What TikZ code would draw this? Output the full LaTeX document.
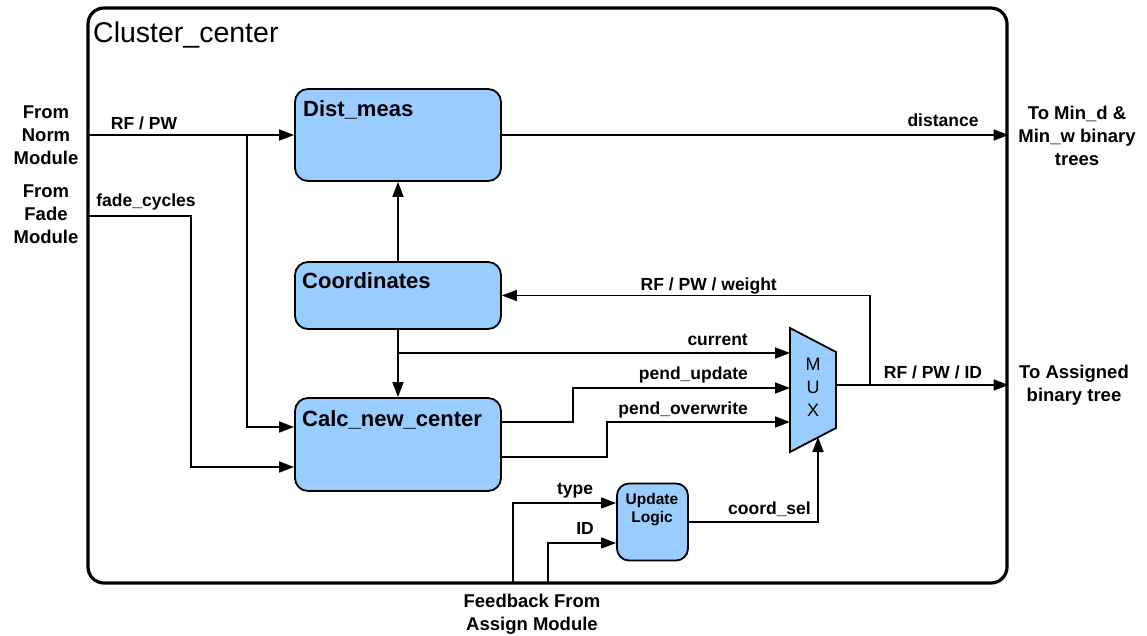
\documentclass[tikz,border=0pt]{standalone}
\usepackage{fontspec}
\setmainfont{Liberation Sans}
\usetikzlibrary{arrows.meta}
\definecolor{boxblue}{HTML}{99CCFF}
\begin{document}
\begin{tikzpicture}[x=1pt,y=-1pt,
  blk/.style={draw, line width=1.8pt, fill=boxblue, rounded corners=13pt, inner sep=0pt},
  sig/.style={line width=1.6pt, -{Triangle[length=15pt,width=11pt]}},
  lbl/.style={font=\fontsize{17.5}{20}\selectfont\bfseries, inner sep=0pt},
  side/.style={font=\fontsize{18.5}{23}\selectfont\bfseries, inner sep=0pt, align=center},
  blklbl/.style={font=\fontsize{22}{25}\selectfont\bfseries, inner sep=0pt},
]
\useasboundingbox (0,0) rectangle (1147,635);
\fill[white] (0,0) rectangle (1147,635);

% frame
\node[draw, line width=3.2pt, rounded corners=16pt, minimum width=919pt, minimum height=575pt, inner sep=0pt] (frame) at (547.5,295.5) {};
\node[font=\fontsize{28.5}{32}\selectfont, inner sep=0pt, anchor=base west] (title) at (93,42) {Cluster\_center};

% blocks
\node[blk, minimum width=206pt, minimum height=92pt] (dist) at (398,135) {};
\node[blk, minimum width=206pt, minimum height=67pt] (coord) at (398,295.5) {};
\node[blk, minimum width=206pt, minimum height=93pt] (calc) at (398,444.5) {};
\node[blk, rounded corners=12pt, minimum width=71pt, minimum height=77pt] (upd) at (652.5,522) {};

\node[blklbl, anchor=base west] (distT) at (303,116) {Dist\_meas};
\node[blklbl, anchor=base west] (coordT) at (302,288) {Coordinates};
\node[blklbl, anchor=base west] (calcT) at (302,426) {Calc\_new\_center};
\node[font=\fontsize{15.5}{18}\selectfont\bfseries, inner sep=0pt, align=center] (updT) at (652,510) {Update\\Logic};

% MUX
\coordinate (mxtl) at (790,328);
\coordinate (mxtr) at (836,352);
\coordinate (mxbr) at (836,428);
\coordinate (mxbl) at (790,452);
\draw[line width=1.8pt, fill=boxblue, line join=miter] (mxtl) -- (mxtr) -- (mxbr) -- (mxbl) -- cycle;
\node[font=\fontsize{18}{23}\selectfont, inner sep=0pt, align=center] (mux) at (813,387.5) {M\\U\\X};
\coordinate (mx1) at (790,353);
\coordinate (mx2) at (790,388);
\coordinate (mx3) at (790,422);
\coordinate (mxsel) at (818,437);
\coordinate (mxout) at (836,385);

% left inputs
\node[side] (norm) at (46,135) {From\\Norm\\Module};
\node[side] (fade) at (46,214) {From\\Fade\\Module};
\coordinate (rfin) at (88,135);
\coordinate (j1) at (247,135);
\coordinate (fin) at (88,216);
\coordinate (fj) at (191,216);
\draw[sig] (rfin) -- (dist.west);
\draw[sig] (j1) |- ([yshift=17.5pt]calc.west);
\draw[sig] (fin) -- (fj) |- ([yshift=-22.5pt]calc.west);
\node[lbl, anchor=base] (lrf) at (144,129) {RF / PW};
\node[lbl, anchor=base] (lfade) at (146,206) {fade\_cycles};

% block connections
\draw[sig] (coord.north) -- (dist.south);
\draw[sig] (coord.south) -- (calc.north);
\coordinate (jc) at (398,353);
\draw[sig] (jc) -- (mx1);
\draw[sig] ([yshift=22.5pt]calc.east) -- ++(71,0) |- (mx2);
\draw[sig] ([yshift=-12.5pt]calc.east) -- ++(105,0) |- (mx3);
\node[lbl, anchor=base east] (lcur) at (748,345) {current};
\node[lbl, anchor=base east] (lpu) at (748,379) {pend\_update};
\node[lbl, anchor=base east] (lpo) at (748,414) {pend\_overwrite};

% outputs
\draw[sig] (dist.east) -- (dist.east -| frame.east);
\node[lbl, anchor=base] (ldist) at (943,126) {distance};
\draw[sig] (mxout) -- (mxout -| frame.east);
\node[lbl, anchor=base] (lid) at (933,378) {RF / PW / ID};
\coordinate (j2) at (870,385);
\draw[sig] (j2) |- (coord.east);
\node[lbl, anchor=base east] (lw) at (777,290) {RF / PW / weight};
\node[side] (tomin) at (1077,136) {To Min\_d \&\\Min\_w binary\\trees};
\node[side] (toas) at (1074,385.5) {To Assigned\\binary tree};

% update logic
\draw[sig] (upd.east) -| (mxsel);
\node[lbl, anchor=base east] (lsel) at (811,514) {coord\_sel};
\coordinate (tb) at (513,583);
\coordinate (ib) at (548,583);
\draw[sig] (tb) |- ([yshift=19pt]upd.west);
\draw[sig] (ib) |- ([yshift=-21pt]upd.west);
\node[lbl, anchor=base] (ltype) at (575,494) {type};
\node[lbl, anchor=base] (lidin) at (585,534) {ID};
\node[side] (fb) at (532,614.5) {Feedback From\\Assign Module};
\end{tikzpicture}
\end{document}
